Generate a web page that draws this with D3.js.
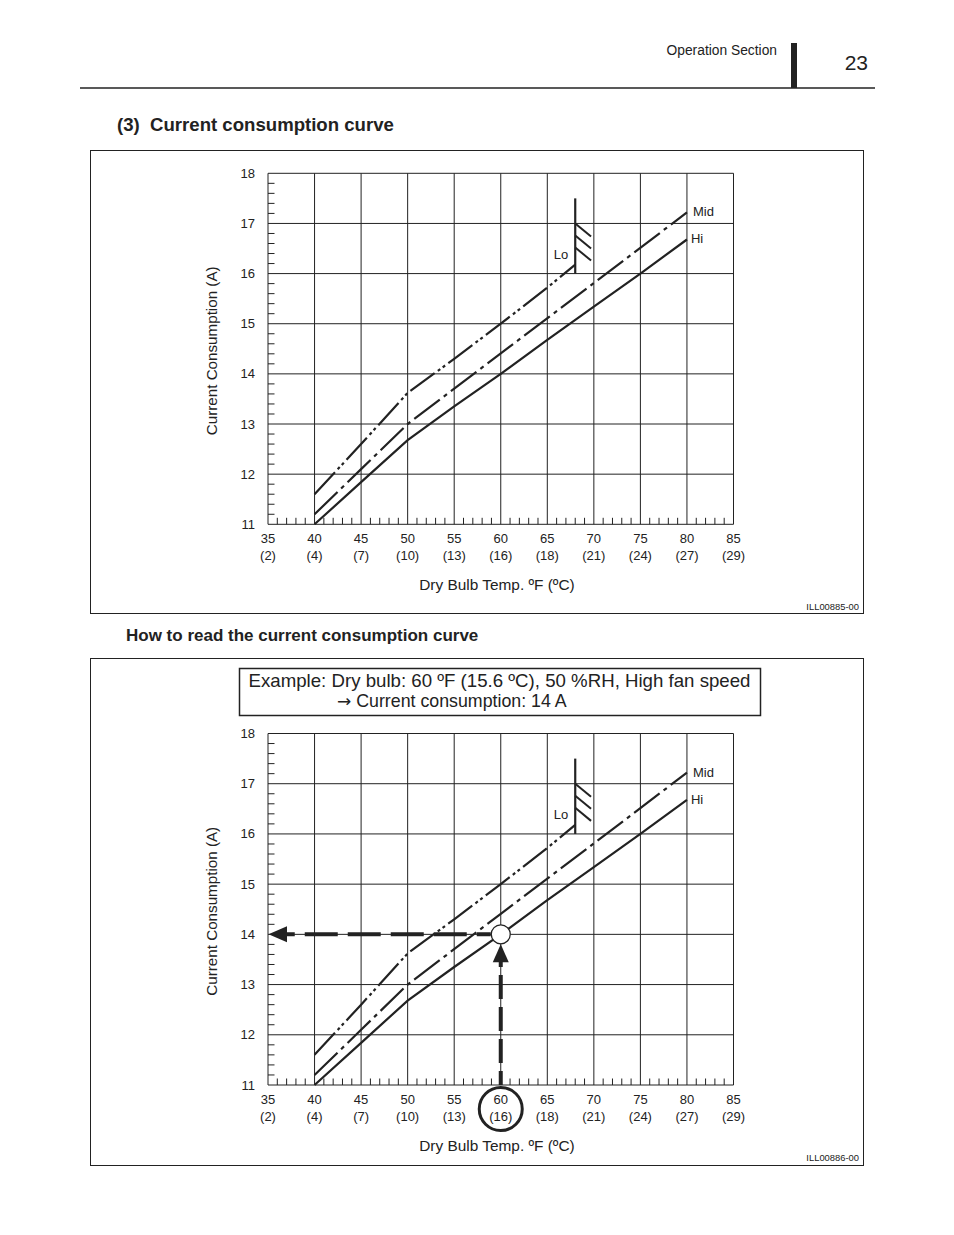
<!DOCTYPE html>
<html><head><meta charset="utf-8">
<script src="https://cdn.jsdelivr.net/npm/d3@7"></script>
<style>body{margin:0;background:#fff}svg{display:block;font-family:"Liberation Sans",Arial,sans-serif}</style>
</head><body>
<script>
// ---- data ----
const tempTicksF = [35,40,45,50,55,60,65,70,75,80,85];
const tempTicksC = ["(2)","(4)","(7)","(10)","(13)","(16)","(18)","(21)","(24)","(27)","(29)"];
const currentTicks = [11,12,13,14,15,16,17,18];
const loTemps   = [40,45,50,55,60,65,68];
const loValues  = [11.6,12.6,13.62,14.3,15.0,15.72,16.18];
const midTemps  = [40,45,50,60,70,80];
const midValues = [11.2,12.1,13.0,14.41,15.81,17.22];
const hiTemps   = [40,45,50,55,60,65,70,75,80];
const hiValues  = [11.0,11.84,12.68,13.35,14.0,14.68,15.34,16.0,16.68];
const loLimitTemp = 68;
const loLimitRange = [16.0,17.5];
const loHatchStarts = [17.0,16.76,16.52];
const exampleTemp = 60;
const exampleCurrent = 14;

const W=954,H=1235;
const svg=d3.select("body").append("svg").attr("width",W).attr("height",H);

// header
svg.append("line").attr("x1",80).attr("x2",875).attr("y1",88).attr("y2",88).attr("stroke","#222").attr("stroke-width",1.3);
svg.append("rect").attr("x",791).attr("y",43).attr("width",6).attr("height",45).attr("fill","#222");
svg.append("text").attr("x",777).attr("y",55).attr("text-anchor","end").attr("font-size",13.8).attr("fill","#222").text("Operation Section");
svg.append("text").attr("x",868).attr("y",70).attr("text-anchor","end").attr("font-size",21).attr("fill","#222").text("23");
svg.append("text").attr("x",117).attr("y",131).attr("font-size",18.6).attr("font-weight","bold").attr("fill","#222").text("(3)\u00a0 Current consumption curve");
svg.append("text").attr("x",126).attr("y",641).attr("font-size",17).attr("font-weight","bold").attr("fill","#222").text("How to read the current consumption curve");

// frames
svg.append("rect").attr("x",90.5).attr("y",150.5).attr("width",773).attr("height",463).attr("fill","none").attr("stroke","#222").attr("stroke-width",1);
svg.append("rect").attr("x",90.5).attr("y",658.5).attr("width",773).attr("height",507).attr("fill","none").attr("stroke","#222").attr("stroke-width",1);
svg.append("text").attr("x",859).attr("y",610).attr("text-anchor","end").attr("font-size",9.4).attr("fill","#222").text("ILL00885-00");
svg.append("text").attr("x",859).attr("y",1161).attr("text-anchor","end").attr("font-size",9.4).attr("fill","#222").text("ILL00886-00");

const x=d3.scaleLinear().domain([35,85]).range([268,733.5]);

function drawChart(top,bottom,withExample){
  const y=d3.scaleLinear().domain([11,18]).range([bottom,top]);
  const g=svg.append("g");
  // grid
  g.selectAll(".vg").data(tempTicksF).join("line")
    .attr("x1",d=>x(d)).attr("x2",d=>x(d)).attr("y1",top).attr("y2",bottom)
    .attr("stroke","#222").attr("stroke-width",1);
  g.selectAll(".hg").data(currentTicks).join("line")
    .attr("x1",x(35)).attr("x2",x(85)).attr("y1",d=>y(d)).attr("y2",d=>y(d))
    .attr("stroke","#222").attr("stroke-width",1);
  // minor ticks
  const minorX=d3.range(36,85).filter(d=>d%5!==0);
  g.selectAll(".mx").data(minorX).join("line")
    .attr("x1",d=>x(d)).attr("x2",d=>x(d)).attr("y1",bottom).attr("y2",bottom-6.5)
    .attr("stroke","#222").attr("stroke-width",1);
  const minorY=d3.range(11.2,18,0.2).filter(d=>Math.abs(d-Math.round(d))>0.05);
  g.selectAll(".my").data(minorY).join("line")
    .attr("x1",x(35)).attr("x2",x(35)+6.5).attr("y1",d=>y(d)).attr("y2",d=>y(d))
    .attr("stroke","#222").attr("stroke-width",1);
  // labels
  g.selectAll(".yl").data(currentTicks).join("text")
    .attr("x",x(35)-13).attr("y",d=>y(d)+4.5).attr("text-anchor","end")
    .attr("font-size",13).attr("fill","#222").text(d=>d);
  g.selectAll(".xl").data(tempTicksF).join("text")
    .attr("x",d=>x(d)).attr("y",bottom+19).attr("text-anchor","middle")
    .attr("font-size",13).attr("fill","#222").text(d=>d);
  g.selectAll(".xc").data(tempTicksC).join("text")
    .attr("x",(d,i)=>x(tempTicksF[i])).attr("y",bottom+36).attr("text-anchor","middle")
    .attr("font-size",13).attr("fill","#222").text(d=>d);
  g.append("text").attr("x",497).attr("y",bottom+66).attr("text-anchor","middle")
    .attr("font-size",15.4).attr("fill","#222").text("Dry Bulb Temp. ºF (ºC)");
  g.append("text").attr("transform",`translate(217,${(top+bottom)/2+2}) rotate(-90)`)
    .attr("text-anchor","middle").attr("font-size",15.2).attr("fill","#222").text("Current Consumption (A)");

  const line=d3.line().x(d=>x(d[0])).y(d=>y(d[1]));
  g.append("path").datum(loTemps.map((t,i)=>[t,loValues[i]])).attr("d",line)
    .attr("fill","none").attr("stroke","#222").attr("stroke-width",2.2).attr("stroke-dasharray","30,4,3,3,3,4");
  g.append("path").datum(midTemps.map((t,i)=>[t,midValues[i]])).attr("d",line)
    .attr("fill","none").attr("stroke","#222").attr("stroke-width",2.2).attr("stroke-dasharray","32,5,4,5");
  g.append("path").datum(hiTemps.map((t,i)=>[t,hiValues[i]])).attr("d",line)
    .attr("fill","none").attr("stroke","#222").attr("stroke-width",2.2);
  // Lo limit marker
  g.append("line").attr("x1",x(loLimitTemp)).attr("x2",x(loLimitTemp))
    .attr("y1",y(loLimitRange[0])).attr("y2",y(loLimitRange[1])).attr("stroke","#222").attr("stroke-width",2.2);
  g.selectAll(".hatch").data(loHatchStarts).join("line")
    .attr("x1",x(loLimitTemp)).attr("y1",d=>y(d))
    .attr("x2",x(loLimitTemp+1.7)).attr("y2",d=>y(d-0.26))
    .attr("stroke","#222").attr("stroke-width",2);
  g.append("text").attr("x",x(loLimitTemp)-7).attr("y",y(16.38)+4.5).attr("text-anchor","end")
    .attr("font-size",13).attr("fill","#222").text("Lo");
  g.append("text").attr("x",x(80)+6).attr("y",y(midValues[midValues.length-1])+4).attr("font-size",13).attr("fill","#222").text("Mid");
  g.append("text").attr("x",x(80)+4).attr("y",y(hiValues[hiValues.length-1])+4).attr("font-size",13).attr("fill","#222").text("Hi");

  if(withExample){
    const cx=x(exampleTemp), cy=y(exampleCurrent);
    // horizontal dashed arrow
    g.append("line").attr("x1",cx-10).attr("x2",x(35)+18).attr("y1",cy).attr("y2",cy)
      .attr("stroke","#222").attr("stroke-width",4).attr("stroke-dasharray","14,10,33,10,33,10,33,10,33,10,33,10,33,10");
    g.append("path").attr("d",`M${x(35)+0.5},${cy} L${x(35)+19},${cy-8} L${x(35)+19},${cy+8} Z`).attr("fill","#222");
    // vertical dashed arrow
    g.append("line").attr("x1",cx).attr("x2",cx).attr("y1",y(11)).attr("y2",cy+26)
      .attr("stroke","#222").attr("stroke-width",4).attr("stroke-dasharray","14,8,24,8,24,8,24,8");
    g.append("path").attr("d",`M${cx},${cy+10} L${cx-8},${cy+28} L${cx+8},${cy+28} Z`).attr("fill","#222");
    g.append("circle").attr("cx",cx).attr("cy",cy).attr("r",9.5).attr("fill","#fff").attr("stroke","#222").attr("stroke-width",1.3);
    g.append("circle").attr("cx",cx).attr("cy",bottom+24).attr("r",21.5).attr("fill","none").attr("stroke","#222").attr("stroke-width",3);
  }
}

drawChart(173.3,524.3,false);
drawChart(733.5,1085,true);

// example box
svg.append("rect").attr("x",239.5).attr("y",668.5).attr("width",521).attr("height",47).attr("fill","#fff").attr("stroke","#222").attr("stroke-width",1.5);
svg.append("text").attr("x",499.5).attr("y",686.5).attr("text-anchor","middle").attr("font-size",17.8).attr("fill","#222")
  .attr("textLength",502).attr("lengthAdjust","spacingAndGlyphs")
  .text("Example: Dry bulb: 60 ºF (15.6 ºC), 50 %RH, High fan speed");
const t2=svg.append("text").attr("x",337).attr("y",707).attr("font-size",17.8).attr("fill","#222");
t2.append("tspan").attr("font-family","DejaVu Sans").attr("font-size",17).text("\u2192");
t2.append("tspan").text(" Current consumption: 14 A");
</script>
</body></html>
